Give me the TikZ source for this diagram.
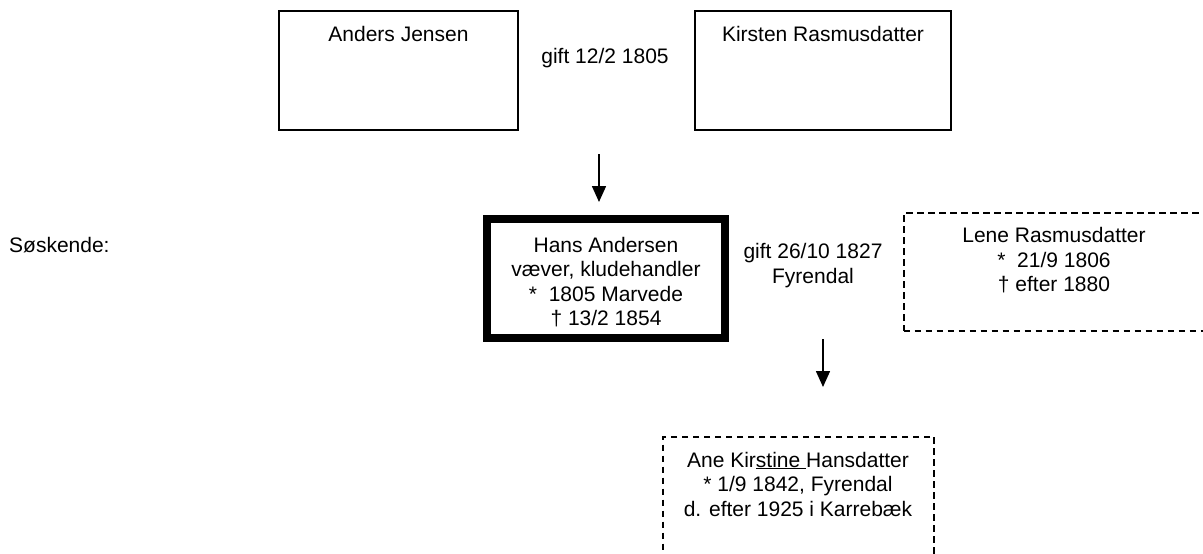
\documentclass[tikz,border=0pt]{standalone}
\usepackage{fontspec}
\setmainfont{Liberation Sans}
\usetikzlibrary{positioning,arrows.meta}

\begin{document}
\begin{tikzpicture}[x=1pt,y=-1pt]
\tikzset{every node/.style={font=\fontsize{21}{24.5}\selectfont, align=center, inner sep=0pt},
person/.style={draw, line width=1.6pt},
main/.style={draw, line width=8pt},
spouse/.style={draw, line width=2pt, dash pattern=on 6.5pt off 4.5pt},
arr/.style={line width=1.6pt, -{Triangle[width=14pt,length=16pt]}}}
\clip (0,0) rectangle (1203,554);
\node [person, minimum width=239.5pt, minimum height=119.5pt] at (398.5,70.5) (Anders) {};
\node [person, minimum width=256.5pt, minimum height=119.5pt] at (823,70.5) (Kirsten) {};
\node [main, minimum width=238pt, minimum height=119pt] at (606,278.5) (Hans) {};
\node [spouse, minimum width=303pt, minimum height=118pt] at (1055,272) (Lene) {};
\node [spouse, minimum width=271pt, minimum height=143pt] at (798.5,508) (Ane) {};
\node at (398.5,34) (AndersTxt) {Anders Jensen};
\node at (823,34) (KirstenTxt) {Kirsten Rasmusdatter};
\node at (605,58) (gift1) {gift 12/2 1805};
\node at (606,282) (HansTxt) {Hans Andersen\\v\ae ver, kludehandler\\*\ \ 1805 Marvede\\† 13/2 1854};
\node at (813,265.5) (gift2) {gift 26/10 1827\\Fyrendal};
\node at (1054,260.5) (LeneTxt) {Lene Rasmusdatter\\*\ \ 21/9 1806\\† efter 1880};
\node at (798,484) (AneTxt) {Ane Kir\underline{stine }Hansdatter\\* 1/9 1842, Fyrendal\\d. efter 1925 i Karreb\ae k};
\node [anchor=west] at (9,245) (sosk) {S\o skende:};
\coordinate (a1) at (599,154);
\coordinate (b1) at (599,202);
\coordinate (a2) at (823,339);
\coordinate (b2) at (823,387);
\foreach \s/\t in {a1/b1, a2/b2}
\draw [arr] (\s) -- (\t);
\end{tikzpicture}
\end{document}
